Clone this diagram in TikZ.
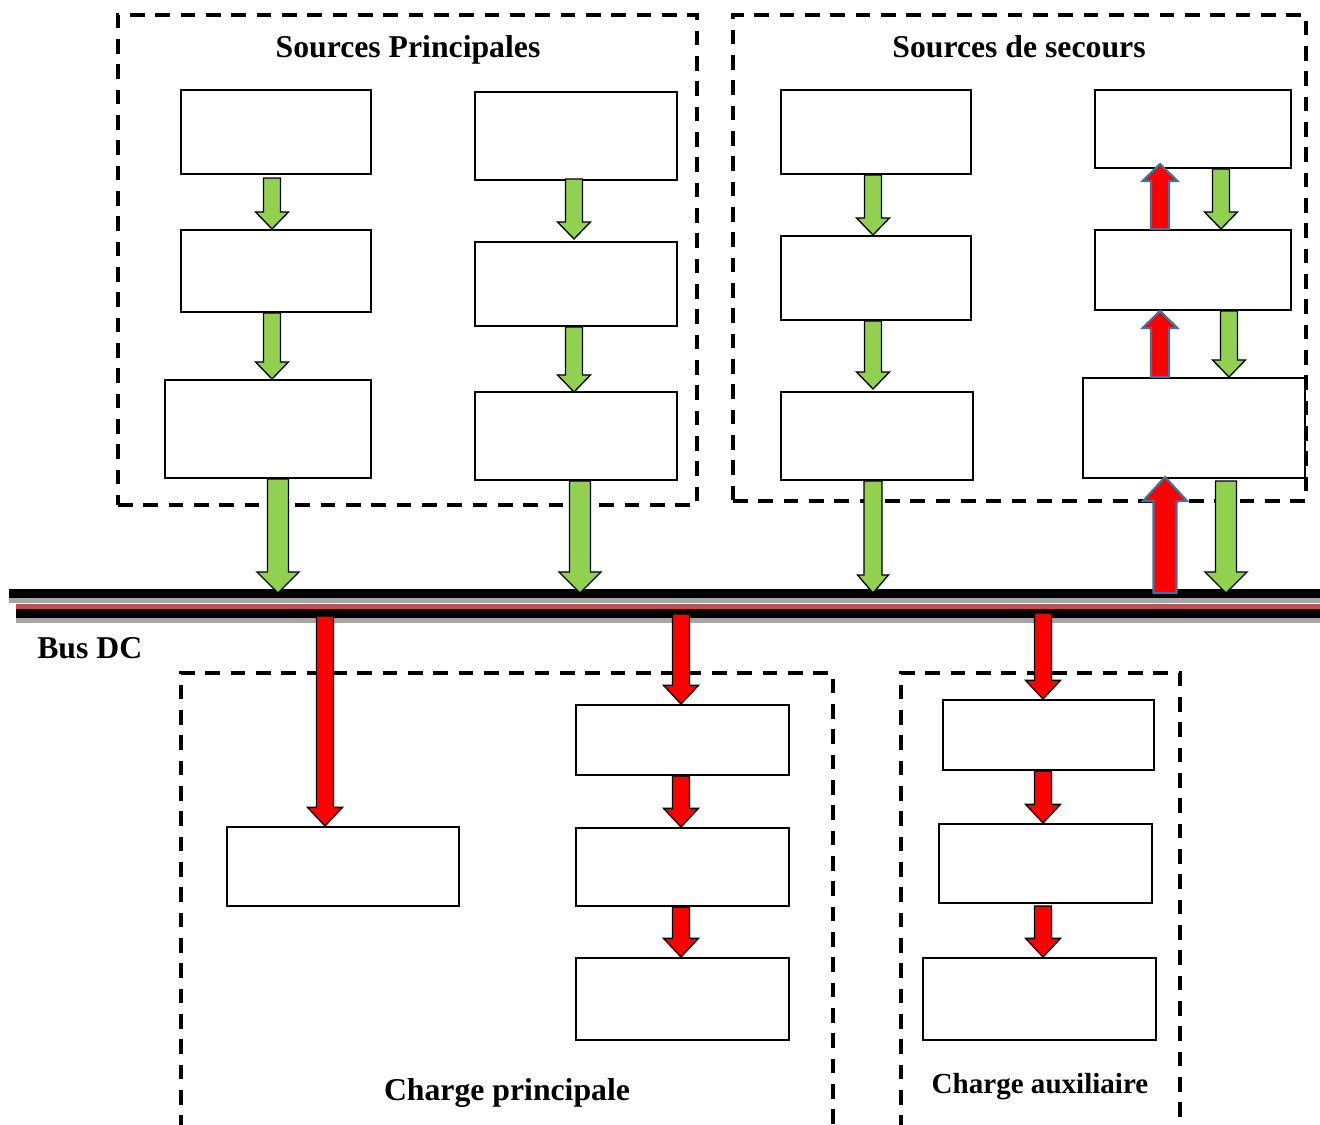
\documentclass[tikz,border=0pt]{standalone}
\usepackage{fontspec}
\setmainfont{Liberation Serif}
\usetikzlibrary{calc,fit}

\definecolor{flowgreen}{HTML}{92D050}
\definecolor{flowred}{HTML}{FF0000}
\definecolor{arrowblue}{HTML}{41719C}
\definecolor{busred}{HTML}{C0504D}
\definecolor{busgrey}{HTML}{A6A6A6}

% Block arrow: #1 style, #2 tail, #3 tip, #4 half shaft width, #5 half head width, #6 head length
\newcommand\blockarrow[6]{%
  \coordinate (bat) at (#2);
  \coordinate (bae) at (#3);
  \coordinate (bah) at ($(bae)!#6!(bat)$);
  \draw[#1] ($(bat)!#4!90:(bae)$) -- ($(bah)!#4!90:(bae)$) -- ($(bah)!#5!90:(bae)$)
    -- (bae) -- ($(bah)!#5!-90:(bae)$) -- ($(bah)!#4!-90:(bae)$) -- ($(bat)!#4!-90:(bae)$) -- cycle;
}
\newcommand\greensmall[2]{\blockarrow{greenflow}{#1}{#2}{6.4pt}{12.4pt}{12.8pt}}
\newcommand\greenbig[2]{\blockarrow{greenflow}{#1}{#2}{7.9pt}{15.8pt}{15.8pt}}
\newcommand\greenmid[2]{\blockarrow{greenflow}{#1}{#2}{6.75pt}{11.6pt}{13.5pt}}
\newcommand\redupsmall[2]{\blockarrow{redback}{#1}{#2}{6.75pt}{13.1pt}{12.8pt}}
\newcommand\redupbig[2]{\blockarrow{redback}{#1}{#2}{8.6pt}{16.5pt}{18pt}}
\newcommand\reddown[2]{\blockarrow{redflow}{#1}{#2}{6.4pt}{13.1pt}{14pt}}

\tikzset{
  box/.style={draw=black, line width=1.5pt, fill=white, inner sep=0pt},
  frame/.style={draw=black, line width=2.6pt, dash pattern=on 11pt off 8pt, inner sep=0pt},
  title/.style={font=\fontsize{23.8}{28}\selectfont\bfseries, anchor=base, inner sep=0pt},
  greenflow/.style={fill=flowgreen, draw=black, line width=1pt, line join=miter},
  redflow/.style={fill=flowred, draw=black, line width=1pt, line join=miter},
  redback/.style={fill=flowred, draw=arrowblue, line width=1.6pt, line join=miter}
}

\begin{document}
\begin{tikzpicture}[x=0.75pt,y=-0.75pt]
\useasboundingbox (0,0) rectangle (1320,1124);

% group frames
\node[frame, fit={(118,15) (697,505)}] (fsp) {};
\node[frame, fit={(733,15) (1306,501)}] (fss) {};
\draw[frame] (181,1130) -- (181,673) -- (833,673) -- (833,1130);
\draw[frame] (901,1130) -- (901,673) -- (1180,673) -- (1180,1130);

% titles
\node[title] (tsp) at (408,58) {Sources Principales};
\node[title] (tss) at (1019,58) {Sources de secours};
\node[title] (tcp) at (507,1100) {Charge principale};
\node[title, font=\fontsize{21.8}{26}\selectfont\bfseries] (tca) at (1040,1093) {Charge auxiliaire};
\node[title, anchor=base west] (tbus) at (37,658) {Bus DC};

% DC bus
\fill[busgrey] (9,597) rectangle (1320,603);
\fill[black] (9,589) rectangle (1320,597.5);
\fill[busred] (16,603.5) rectangle (1320,609.3);
\fill[busgrey] (16,617.5) rectangle (1320,622.5);
\fill[black] (16,609.3) rectangle (1320,618);
\coordinate (bus) at (0,593);
\coordinate (busb) at (0,614);

% main sources
\node[box, fit={(181,90) (371,174)}] (p11) {};
\node[box, fit={(181,230) (371,312)}] (p12) {};
\node[box, fit={(165,380) (371,478)}] (p13) {};
\node[box, fit={(475,92) (677,180)}] (p21) {};
\node[box, fit={(475,242) (677,326)}] (p22) {};
\node[box, fit={(475,392) (677,480)}] (p23) {};

% backup sources
\node[box, fit={(781,90) (971,174)}] (s11) {};
\node[box, fit={(781,236) (971,320)}] (s12) {};
\node[box, fit={(781,392) (973,480)}] (s13) {};
\node[box, fit={(1095,90) (1291,168)}] (s21) {};
\node[box, fit={(1095,230) (1291,310)}] (s22) {};
\node[box, fit={(1083,378) (1305,478)}] (s23) {};

% main load
\node[box, fit={(227,827) (459,906)}] (c1) {};
\node[box, fit={(576,705) (789,775)}] (c21) {};
\node[box, fit={(576,828) (789,906)}] (c22) {};
\node[box, fit={(576,958) (789,1040)}] (c23) {};

% auxiliary load
\node[box, fit={(943,700) (1154,770)}] (a1) {};
\node[box, fit={(939,824) (1152,903)}] (a2) {};
\node[box, fit={(923,958) (1156,1040)}] (a3) {};

% flows from the main sources
\greensmall{$(p11.south)+(-4,3)$}{$(p12.north)+(-4,0)$}
\greensmall{$(p12.south)+(-4,0)$}{$(p13.north)+(4,0)$}
\greenbig{$(p13.south)+(10,0)$}{$(p13.south |- bus)+(10,0)$}
\greensmall{$(p21.south)+(-2,-2)$}{$(p22.north)+(-2,-2)$}
\greensmall{$(p22.south)+(-2,0)$}{$(p23.north)+(-2,1)$}
\greenbig{$(p23.south)+(4,0)$}{$(p23.south |- bus)+(4,0)$}

% flows from the backup sources
\greensmall{$(s11.south)+(-3,0)$}{$(s12.north)+(-3,0)$}
\greensmall{$(s12.south)+(-3,0)$}{$(s13.north)+(-4,-2)$}
\greenmid{$(s13.south)+(-4,0)$}{$(s13.south |- bus)+(-4,0)$}
\greensmall{$(s21.south)+(28,0)$}{$(s22.north)+(28,0)$}
\greensmall{$(s22.south)+(36,0)$}{$(s23.north)+(35,0)$}
\greenbig{$(s23.south)+(32,2)$}{$(s23.south |- bus)+(32,0)$}
\redupsmall{$(s22.north)+(-33,0)$}{$(s21.south)+(-33,-5)$}
\redupsmall{$(s23.north)+(-34,0)$}{$(s22.south)+(-33,0)$}
\redupbig{$(s23.south |- bus)+(-29,0)$}{$(s23.south)+(-29,-2)$}

% flows to the main load
\reddown{$(c1.north |- busb)+(-18,2)$}{$(c1.north)+(-18,0)$}
\reddown{$(c21.north |- busb)+(-1.5,0)$}{$(c21.north)+(-1.5,0)$}
\reddown{$(c21.south)+(-1.5,0)$}{$(c22.north)+(-1.5,0)$}
\reddown{$(c22.south)+(-1.5,0)$}{$(c23.north)+(-1.5,0)$}

% flows to the auxiliary load
\reddown{$(a1.north |- busb)+(-5.5,-1)$}{$(a1.north)+(-5.5,0)$}
\reddown{$(a1.south)+(-5.5,0)$}{$(a2.north)+(-2.5,0)$}
\reddown{$(a2.south)+(-2.5,2)$}{$(a3.north)+(3.5,0)$}
\end{tikzpicture}
\end{document}
